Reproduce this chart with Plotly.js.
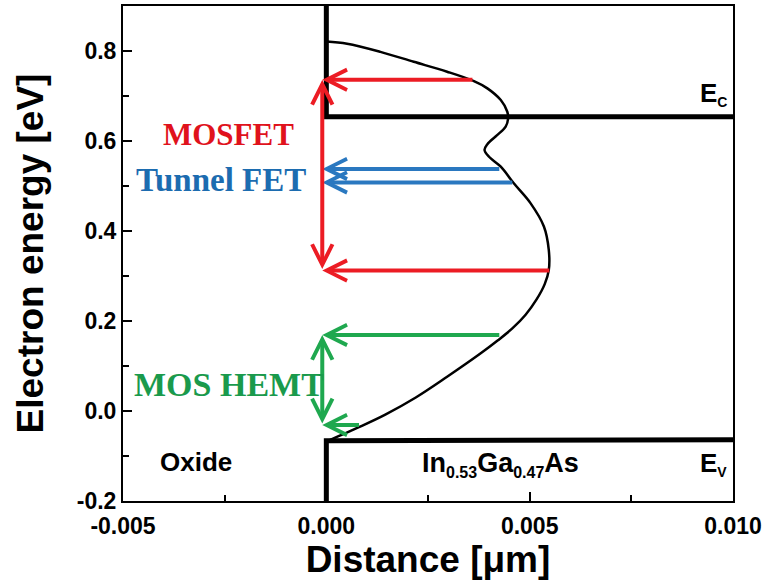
<!DOCTYPE html>
<html><head><meta charset="utf-8">
<script src="https://cdn.plot.ly/plotly-3.0.1.min.js"></script>
<style>html,body{margin:0;padding:0;background:#fff}</style>
</head><body>
<div id="chart" style="width:766px;height:581px"></div>
<script>
// ---- Data (distance in μm, energy in eV) ----
const ecX = [0, 0, 0.010];
const ecY = [0.9, 0.654, 0.654];
const evX = [0, 0, 0.010];
const evY = [-0.2, -0.066, -0.064];

const curveX = [0, 0.00051, 0.00133, 0.00215, 0.00297, 0.00363, 0.00396, 0.00429, 0.00445, 0.00447, 0.00441, 0.00420, 0.00396, 0.00389, 0.00400, 0.00429, 0.00461, 0.00502, 0.00535, 0.00547, 0.00547, 0.00537, 0.00517, 0.00490, 0.00458, 0.00422, 0.00378, 0.00297, 0.00220, 0.00145, 0.00080, 0.00030, 0];
const curveY = [0.821, 0.816, 0.798, 0.776, 0.754, 0.733, 0.717, 0.691, 0.665, 0.650, 0.632, 0.613, 0.593, 0.580, 0.565, 0.543, 0.506, 0.462, 0.410, 0.358, 0.313, 0.282, 0.248, 0.214, 0.184, 0.157, 0.127, 0.076, 0.030, -0.008, -0.036, -0.056, -0.068];

const mosfetLevels = [0.736, 0.312];
const mosfetTailX = [0.00363, 0.00552];
const tfetLevels = [0.538, 0.508];
const tfetTailX = [0.00429, 0.00461];
const hemtLevels = [0.169, -0.031];
const hemtTailX = [0.00429, 0.00084];
const tipX = -0.0001;

const xTickVals = [-0.005, 0, 0.005, 0.010];
const xTickText = ['-0.005', '0.000', '0.005', '0.010'];
const yTickVals = [-0.2, 0, 0.2, 0.4, 0.6, 0.8];
const yTickText = ['-0.2', '0.0', '0.2', '0.4', '0.6', '0.8'];

const RED = '#ec1c24', BLUE = '#2a78c0', GREEN = '#1fa84f';
const RED_T = '#e0121c', BLUE_T = '#1c6cb0', GREEN_T = '#1a9a4c';

// ---- Traces ----
const traces = [
  {x: ecX, y: ecY, mode: 'lines', line: {color: '#000', width: 5}, hoverinfo: 'skip'},
  {x: evX, y: evY, mode: 'lines', line: {color: '#000', width: 5}, hoverinfo: 'skip'},
  {x: curveX, y: curveY, mode: 'lines', line: {color: '#000', width: 2.5, shape: 'spline', smoothing: 1}, hoverinfo: 'skip'}
];

function hArrow(level, tail, color) {
  return {x: tipX, y: level, ax: tail, ay: level, xref: 'x', yref: 'y', axref: 'x', ayref: 'y',
    text: '', showarrow: true, arrowhead: 5, arrowsize: 1.0, arrowwidth: 4, arrowcolor: color, standoff: 0};
}
function vArrow(levels, color) {
  return {x: tipX, y: levels[0], ax: tipX, ay: levels[1], xref: 'x', yref: 'y', axref: 'x', ayref: 'y',
    text: '', showarrow: true, arrowside: 'end+start', arrowhead: 5, startarrowhead: 5,
    arrowsize: 1.0, startarrowsize: 1.0, arrowwidth: 4, arrowcolor: color, standoff: 0, startstandoff: 0};
}

const annotations = [];
mosfetLevels.forEach((l, i) => annotations.push(hArrow(l, mosfetTailX[i], RED)));
tfetLevels.forEach((l, i) => annotations.push(hArrow(l, tfetTailX[i], BLUE)));
hemtLevels.forEach((l, i) => annotations.push(hArrow(l, hemtTailX[i], GREEN)));
annotations.push(vArrow(mosfetLevels, RED));
annotations.push(vArrow(tfetLevels, BLUE));
annotations.push(vArrow(hemtLevels, GREEN));

const serif = 'Liberation Serif, Times New Roman, serif';
const sans = 'Liberation Sans, Arial, sans-serif';
annotations.push(
  {x: -0.00241, y: 0.615, xref: 'x', yref: 'y', text: '<b>MOSFET</b>', showarrow: false, font: {family: serif, size: 31, color: RED_T}},
  {x: -0.00258, y: 0.514, xref: 'x', yref: 'y', text: '<b>Tunnel FET</b>', showarrow: false, font: {family: serif, size: 33, color: BLUE_T}},
  {x: -0.00240, y: 0.058, xref: 'x', yref: 'y', text: '<b>MOS HEMT</b>', showarrow: false, font: {family: serif, size: 34, color: GREEN_T}},
  {x: -0.0032, y: -0.114, xref: 'x', yref: 'y', text: '<b>Oxide</b>', showarrow: false, font: {family: sans, size: 26, color: '#000'}},
  {x: 0.00231, y: -0.118, xref: 'x', yref: 'y', xanchor: 'left', text: '<b>In<sub><span style="font-size:16px">0.53</span></sub>Ga<sub><span style="font-size:16px">0.47</span></sub>As</b>', showarrow: false, font: {family: sans, size: 27, color: '#000'}},
  {x: 1, y: 0.705, xref: 'paper', yref: 'y', xanchor: 'right', xshift: -4, text: '<b>E<sub><span style="font-size:14px">C</span></sub></b>', showarrow: false, font: {family: sans, size: 26, color: '#000'}},
  {x: 1, y: -0.118, xref: 'paper', yref: 'y', xanchor: 'right', xshift: -4, text: '<b>E<sub><span style="font-size:14px">V</span></sub></b>', showarrow: false, font: {family: sans, size: 26, color: '#000'}}
);

const bold = a => a.map(s => '<b>' + s + '</b>');

const layout = {
  width: 766, height: 581,
  margin: {l: 123, r: 33, t: 6, b: 80},
  paper_bgcolor: '#fff', plot_bgcolor: '#fff',
  showlegend: false,
  font: {family: sans, color: '#000'},
  xaxis: {
    range: [-0.005, 0.010], tickvals: xTickVals, ticktext: bold(xTickText),
    ticks: 'inside', ticklen: 9, tickwidth: 2, tickcolor: '#000', ticklabelstandoff: 3,
    minor: {dtick: 0.0025, ticks: 'inside', ticklen: 6, tickwidth: 2, tickcolor: '#000'},
    showline: true, linecolor: '#000', linewidth: 2, mirror: true,
    showgrid: false, zeroline: false,
    tickfont: {family: sans, size: 23, color: '#000'},
    title: {text: '<b>Distance [μm]</b>', font: {family: sans, size: 37, color: '#000'}, standoff: 2}
  },
  yaxis: {
    range: [-0.2, 0.9], tickvals: yTickVals, ticktext: bold(yTickText),
    ticks: 'inside', ticklen: 9, tickwidth: 2, tickcolor: '#000',
    minor: {dtick: 0.1, ticks: 'inside', ticklen: 6, tickwidth: 2, tickcolor: '#000'},
    showline: true, linecolor: '#000', linewidth: 2, mirror: true,
    showgrid: false, zeroline: false,
    tickfont: {family: sans, size: 23, color: '#000'},
    title: {text: '<b>Electron energy [eV]</b>', font: {family: sans, size: 37, color: '#000'}, standoff: 22}
  },
  annotations: annotations
};

Plotly.newPlot('chart', traces, layout, {displayModeBar: false, staticPlot: true});
</script>
</body></html>
